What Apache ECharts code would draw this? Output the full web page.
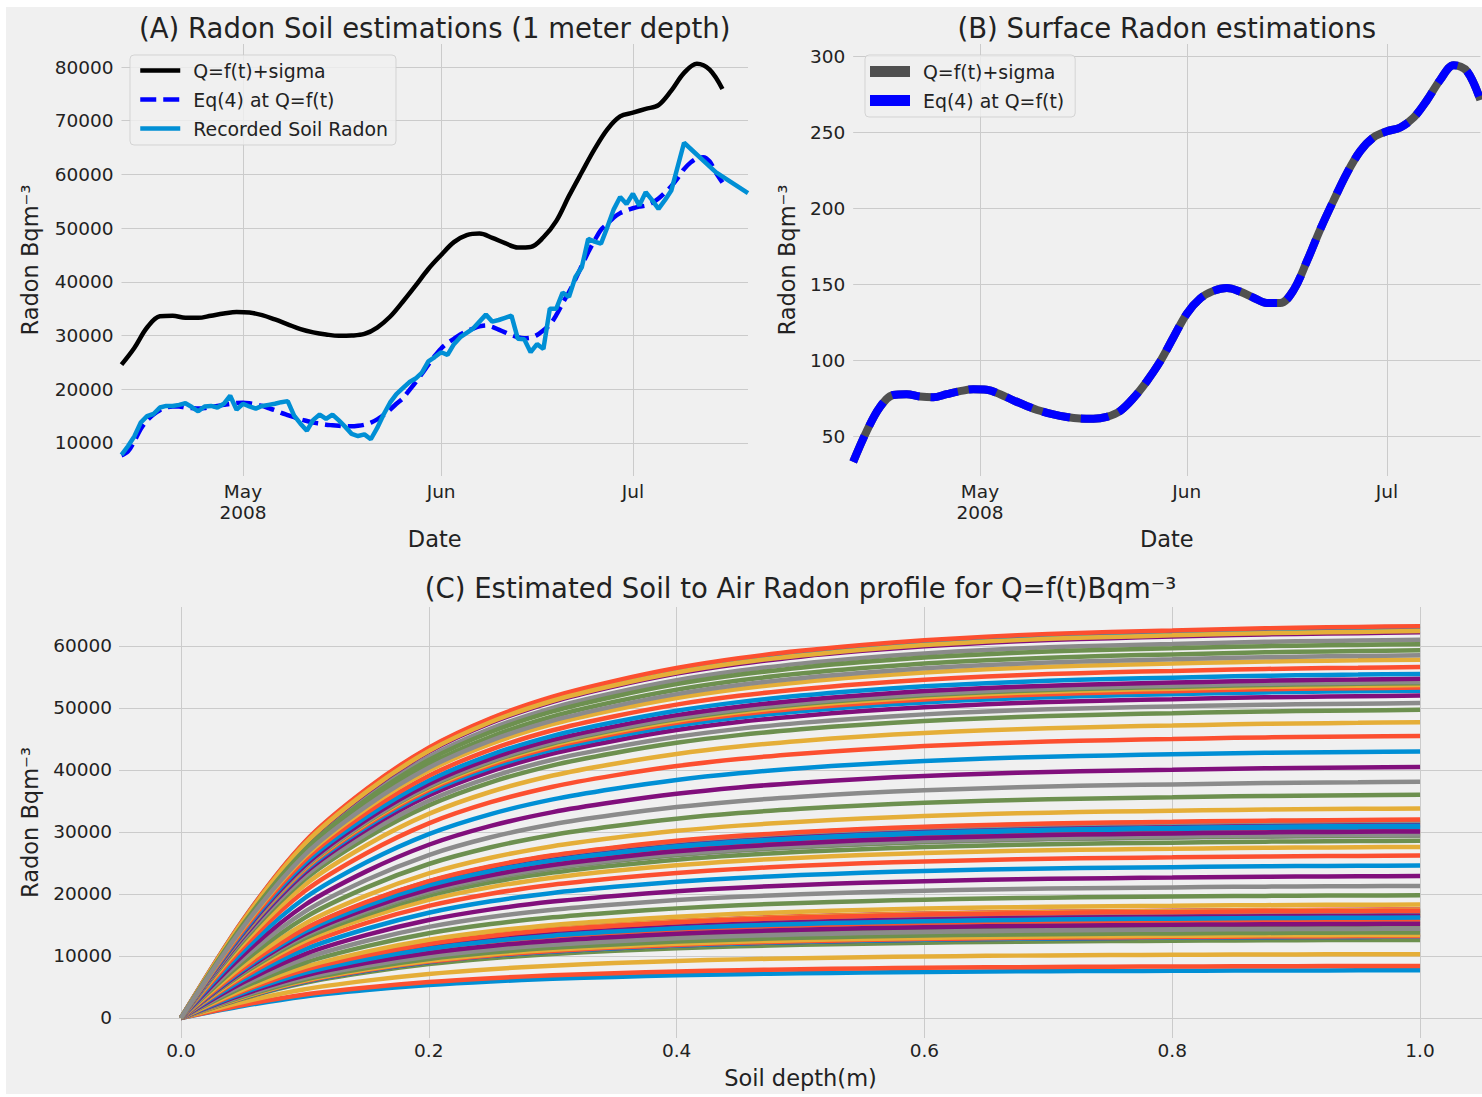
<!DOCTYPE html>
<html>
<head>
<meta charset="utf-8">
<script src="https://cdn.jsdelivr.net/npm/echarts@6/dist/echarts.min.js"></script>
<style>
html,body{margin:0;padding:0;background:#ffffff;}
#bg{position:absolute;left:6px;top:7px;width:1476px;height:1087px;background:#f0f0f0;}
#chart{position:absolute;left:0;top:0;width:1482px;height:1097px;}
</style>
</head>
<body>
<div id="bg"></div>
<div id="chart"></div>
<script>
// ------------------------------------------------------------------ DATA
// smooth curves sampled every 2 days (panel A black curve, panel B)
const curveDates = ['2008-04-12','2008-04-14','2008-04-16','2008-04-18','2008-04-20','2008-04-22','2008-04-24','2008-04-26','2008-04-28','2008-04-30',
  '2008-05-02','2008-05-04','2008-05-06','2008-05-08','2008-05-10','2008-05-12','2008-05-14','2008-05-16','2008-05-18','2008-05-20',
  '2008-05-22','2008-05-24','2008-05-26','2008-05-28','2008-05-30','2008-06-01','2008-06-03','2008-06-05','2008-06-07','2008-06-09',
  '2008-06-11','2008-06-13','2008-06-15','2008-06-17','2008-06-19','2008-06-21','2008-06-23','2008-06-25','2008-06-27','2008-06-29',
  '2008-07-01','2008-07-03','2008-07-05','2008-07-07','2008-07-09','2008-07-11','2008-07-13','2008-07-15'];

// Panel A: Q=f(t)+sigma (soil, 1 m)
const sigmaValues = [24600,27700,31500,33600,33700,33300,33300,33700,34100,34400,
  34300,33800,33000,32100,31200,30600,30200,29950,30000,30300,
  31500,33500,36300,39300,42400,45000,47400,48700,49000,48200,
  47200,46400,46500,48300,51300,56000,60400,64700,68400,70800,
  71500,72200,72900,75600,78900,80600,79500,75900];

// Panel B: surface radon (both curves coincide)
const surfaceRadon = [33,53,69,77,77.5,76,75.5,77.5,79.5,80.8,
  80.5,77.5,73.5,69.8,66.6,64.2,62.5,61.5,61.3,62.6,
  66.5,75,86,99,115,130.5,140.5,145.5,147.4,145,
  141,137.5,137.5,146,165,186,205,223,237.5,246.5,
  250.5,253,259.5,271,284.5,294,290,271];

// Eq(4) at Q=f(t): daily values (1 m depth), first day = eq4Start
const eq4Start = '2008-04-12';
const eq4Daily = [7700,8400,10300,12600,14200,15300,16100,16600,16800,16800,
  16600,16500,16400,16500,16700,16900,17100,17300,17450,17500,
  17400,17200,16900,16500,16100,15600,15200,14800,14400,14100,
  13800,13600,13400,13300,13200,13100,13100,13200,13400,13800,
  14400,15200,16200,17300,18300,19800,21300,22900,24600,26200,
  27600,28600,29400,30200,30800,31300,31700,31900,31600,31100,
  30600,30100,29700,29500,29600,30100,31000,32000,33800,36000,
  38100,40500,43000,45500,47700,49700,50800,52000,52800,53300,
  53700,54000,54200,54700,55500,56600,57800,59300,61000,62200,
  63000,63200,62400,60300,58500];

// Recorded soil radon
const recDates = ['2008-04-12','2008-04-13','2008-04-14','2008-04-15','2008-04-16','2008-04-17','2008-04-18','2008-04-19','2008-04-20','2008-04-21',
  '2008-04-22','2008-04-23','2008-04-24','2008-04-25','2008-04-26','2008-04-27','2008-04-28','2008-04-29','2008-04-30','2008-05-01',
  '2008-05-02','2008-05-03','2008-05-04','2008-05-05','2008-05-06','2008-05-07','2008-05-08','2008-05-09','2008-05-10','2008-05-11',
  '2008-05-12','2008-05-13','2008-05-14','2008-05-15','2008-05-16','2008-05-17','2008-05-18','2008-05-19','2008-05-20','2008-05-21',
  '2008-05-22','2008-05-23','2008-05-24','2008-05-25','2008-05-26','2008-05-27','2008-05-28','2008-05-29','2008-05-30','2008-05-31',
  '2008-06-01','2008-06-02','2008-06-03','2008-06-04','2008-06-05','2008-06-06','2008-06-07','2008-06-08','2008-06-09','2008-06-10',
  '2008-06-11','2008-06-12','2008-06-13','2008-06-14','2008-06-15','2008-06-16','2008-06-17','2008-06-18','2008-06-19','2008-06-20',
  '2008-06-21','2008-06-22','2008-06-23','2008-06-24','2008-06-25','2008-06-26','2008-06-27','2008-06-28','2008-06-29','2008-06-30',
  '2008-07-01','2008-07-02','2008-07-03','2008-07-04','2008-07-05','2008-07-06','2008-07-07','2008-07-09','2008-07-14','2008-07-19'];
const recValues = [7800,9400,11200,13800,15000,15400,16600,16900,16900,17100,
  17400,16700,15900,16800,16900,16600,17300,18800,16200,17300,
  16800,16400,16900,17100,17300,17600,17800,15100,13600,12300,
  14300,15300,14500,15300,14200,13000,11700,11300,11600,10700,
  12800,15300,17500,19100,20200,21300,22000,23100,25200,26000,
  26900,26400,28400,29700,30500,31300,32600,33900,32600,32900,
  33300,33700,29400,29300,26900,28400,27500,35000,35000,38000,
  37200,40900,42700,48000,47500,47100,50200,53500,55800,54500,
  56400,54200,56700,55200,53600,55200,57000,65900,60400,56500];

// Panel C: soil-depth profile shape (fraction of the 1 m value)
const depthPoints = [0,0.05,0.1,0.15,0.2,0.25,0.3,0.35,0.4,0.45,0.5,0.55,0.6,0.65,0.7,0.75,0.8,0.85,0.9,0.95,1.0];
const profileShape = [0,0.25,0.45,0.585,0.69,0.765,0.82,0.86,0.893,0.918,0.937,0.952,0.964,0.973,0.98,0.985,0.989,0.993,0.996,0.998,1.0];

// tick labels
const monthTickDates = ['2008-05-01','2008-06-01','2008-07-01'];
const radonTicksA = [10000,20000,30000,40000,50000,60000,70000,80000];
const radonTicksB = [50,100,150,200,250,300];
const radonTicksC = [0,10000,20000,30000,40000,50000,60000];
const depthTicks = [0,0.2,0.4,0.6,0.8,1.0];
const monthNames = ['Jan','Feb','Mar','Apr','May','Jun','Jul','Aug','Sep','Oct','Nov','Dec'];
const cycle = ['#008fd5','#fc4f30','#e5ae38','#6d904f','#8b8b8b','#810f7c'];

// ------------------------------------------------------------------ HELPERS
function ts(s, addDays) {
  const p = s.split('-').map(Number);
  return new Date(p[0], p[1] - 1, p[2] + (addDays || 0)).getTime();
}
const FONT = 'DejaVu Sans';
const INK = '#222222';
const GRIDC = '#cbcbcb';
const TICK_FS = 18.5;
const NAME_FS = 22.5;
const TITLE_FONT = '27.5px "DejaVu Sans"';

const monthTicks = monthTickDates.map(s => ts(s));
function monthFormatter(v) {
  const d = new Date(v);
  const s = monthNames[d.getMonth()];
  return Math.abs(v - monthTicks[0]) < 3600000 ? s + '\n' + d.getFullYear() : s;
}
function commonAxis(extra) {
  return Object.assign({
    axisLine: {show: false},
    axisTick: {show: false},
    splitLine: {show: true, lineStyle: {color: GRIDC, width: 1}},
    nameMoveOverlap: false,
    nameTextStyle: {fontFamily: FONT, fontSize: NAME_FS, color: INK}
  }, extra);
}

// ------------------------------------------------------------------ SERIES
const series = [];
series.push({
  name: 'Q=f(t)+sigma', type: 'line', xAxisIndex: 0, yAxisIndex: 0,
  data: curveDates.map((d, i) => [ts(d), sigmaValues[i]]),
  smooth: 0.35, symbol: 'none', showSymbol: false,
  itemStyle: {color: '#000000'}, lineStyle: {color: '#000000', width: 4.5}
});
series.push({
  name: 'Eq(4) at Q=f(t)', type: 'line', xAxisIndex: 0, yAxisIndex: 0,
  data: eq4Daily.map((v, i) => [ts(eq4Start, i), v]),
  smooth: 0.3, symbol: 'none', showSymbol: false,
  itemStyle: {color: '#0000ff'}, lineStyle: {color: '#0000ff', width: 4.5, type: [16, 7]}
});
series.push({
  name: 'Recorded Soil Radon', type: 'line', xAxisIndex: 0, yAxisIndex: 0,
  data: recDates.map((d, i) => [ts(d), recValues[i]]),
  symbol: 'none', showSymbol: false,
  itemStyle: {color: '#008fd5'}, lineStyle: {color: '#008fd5', width: 4.5}
});
series.push({
  name: 'Q=f(t)+sigma ', type: 'line', xAxisIndex: 1, yAxisIndex: 1,
  data: curveDates.map((d, i) => [ts(d), surfaceRadon[i]]),
  smooth: 0.35, symbol: 'none', showSymbol: false,
  itemStyle: {color: '#505050'}, lineStyle: {color: '#505050', width: 8}
});
series.push({
  name: 'Eq(4) at Q=f(t) ', type: 'line', xAxisIndex: 1, yAxisIndex: 1,
  data: curveDates.map((d, i) => [ts(d), surfaceRadon[i]]),
  smooth: 0.35, symbol: 'none', showSymbol: false,
  itemStyle: {color: '#0000ff'}, lineStyle: {color: '#0000ff', width: 8, type: [28, 11]}
});
eq4Daily.forEach((c1m, i) => {
  series.push({
    name: 'profile ' + (i + 1), type: 'line', xAxisIndex: 2, yAxisIndex: 2,
    data: depthPoints.map((z, k) => [z, c1m * profileShape[k]]),
    smooth: 0.3, symbol: 'none', showSymbol: false,
    itemStyle: {color: cycle[i % 6]}, lineStyle: {color: cycle[i % 6], width: 4.5}
  });
});

// ------------------------------------------------------------------ OPTION
const legendBase = {
  orient: 'vertical', selectedMode: false,
  itemWidth: 40, itemGap: 10,
  backgroundColor: 'rgba(240,240,240,0.8)',
  borderColor: 'rgba(204,204,204,0.8)', borderWidth: 1, borderRadius: 4,
  textStyle: {fontFamily: FONT, fontSize: 18.9, color: INK, padding: [0, 0, 0, 8]}
};

const option = {
  animation: false,
  backgroundColor: 'transparent',
  textStyle: {fontFamily: FONT},
  graphic: [
    {type: 'text', x: 434.75, y: 28, style: {text: '(A) Radon Soil estimations (1 meter depth)', font: TITLE_FONT, fill: INK, textAlign: 'center', textVerticalAlign: 'middle', align: 'center', verticalAlign: 'middle'}},
    {type: 'text', x: 1166.8, y: 28, style: {text: '(B) Surface Radon estimations', font: TITLE_FONT, fill: INK, textAlign: 'center', textVerticalAlign: 'middle', align: 'center', verticalAlign: 'middle'}},
    {type: 'text', x: 800.5, y: 588, style: {text: '(C) Estimated Soil to Air Radon profile for Q=f(t)Bqm\u207B\u00B3', font: TITLE_FONT, fill: INK, textAlign: 'center', textVerticalAlign: 'middle', align: 'center', verticalAlign: 'middle'}}
  ],
  legend: [
    Object.assign({}, legendBase, {
      left: 130, top: 55, padding: [6, 8, 7, 8], itemHeight: 14,
      lineStyle: {width: 4.5},
      itemStyle: {opacity: 0, borderWidth: 0},
      data: ['Q=f(t)+sigma', 'Eq(4) at Q=f(t)', 'Recorded Soil Radon']
    }),
    Object.assign({}, legendBase, {
      left: 865, top: 55, padding: [7, 5, 7, 5], itemHeight: 11,
      data: [{name: 'Q=f(t)+sigma ', icon: 'rect'}, {name: 'Eq(4) at Q=f(t) ', icon: 'rect'}]
    })
  ],
  grid: [
    {left: 121.5, top: 44, width: 626.5, height: 432, containLabel: false, outerBoundsMode: 'none'},
    {left: 853.2, top: 44, width: 627.2, height: 432, containLabel: false, outerBoundsMode: 'none'},
    {left: 119, top: 607, width: 1363, height: 431, containLabel: false, outerBoundsMode: 'none'}
  ],
  xAxis: [
    commonAxis({
      gridIndex: 0, type: 'value', min: ts('2008-04-12'), max: ts('2008-07-19'),
      axisTick: {show: false, customValues: monthTicks},
      axisLabel: {customValues: monthTicks, formatter: monthFormatter, fontFamily: FONT, fontSize: TICK_FS, color: INK, margin: 5, lineHeight: 21, hideOverlap: false},
      name: 'Date', nameLocation: 'middle', nameGap: 51
    }),
    commonAxis({
      gridIndex: 1, type: 'value', min: ts('2008-04-12'), max: ts('2008-07-15'),
      axisTick: {show: false, customValues: monthTicks},
      axisLabel: {customValues: monthTicks, formatter: monthFormatter, fontFamily: FONT, fontSize: TICK_FS, color: INK, margin: 5, lineHeight: 21, hideOverlap: false},
      name: 'Date', nameLocation: 'middle', nameGap: 51
    }),
    commonAxis({
      gridIndex: 2, type: 'value', min: -0.05, max: 1.05,
      axisTick: {show: false, customValues: depthTicks},
      axisLabel: {customValues: depthTicks, formatter: v => v.toFixed(1), fontFamily: FONT, fontSize: TICK_FS, color: INK, margin: 3, hideOverlap: false},
      name: 'Soil depth(m)', nameLocation: 'middle', nameGap: 28
    })
  ],
  yAxis: [
    commonAxis({
      gridIndex: 0, type: 'value', min: 3856, max: 84283,
      axisTick: {show: false, customValues: radonTicksA},
      axisLabel: {customValues: radonTicksA, formatter: v => String(v), fontFamily: FONT, fontSize: TICK_FS, color: INK, margin: 8},
      name: 'Radon Bqm\u207B\u00B3', nameLocation: 'middle', nameGap: 80
    }),
    commonAxis({
      gridIndex: 1, type: 'value', min: 23.7, max: 307.9,
      axisTick: {show: false, customValues: radonTicksB},
      axisLabel: {customValues: radonTicksB, formatter: v => String(v), fontFamily: FONT, fontSize: TICK_FS, color: INK, margin: 8},
      name: 'Radon Bqm\u207B\u00B3', nameLocation: 'middle', nameGap: 55
    }),
    commonAxis({
      gridIndex: 2, type: 'value', min: -3226, max: 66290,
      axisTick: {show: false, customValues: radonTicksC},
      axisLabel: {customValues: radonTicksC, formatter: v => String(v), fontFamily: FONT, fontSize: TICK_FS, color: INK, margin: 7},
      name: 'Radon Bqm\u207B\u00B3', nameLocation: 'middle', nameGap: 78
    })
  ],
  series: series
};

const chart = echarts.init(document.getElementById('chart'), null, {renderer: 'svg', width: 1482, height: 1097});
chart.setOption(option);
</script>
</body>
</html>
